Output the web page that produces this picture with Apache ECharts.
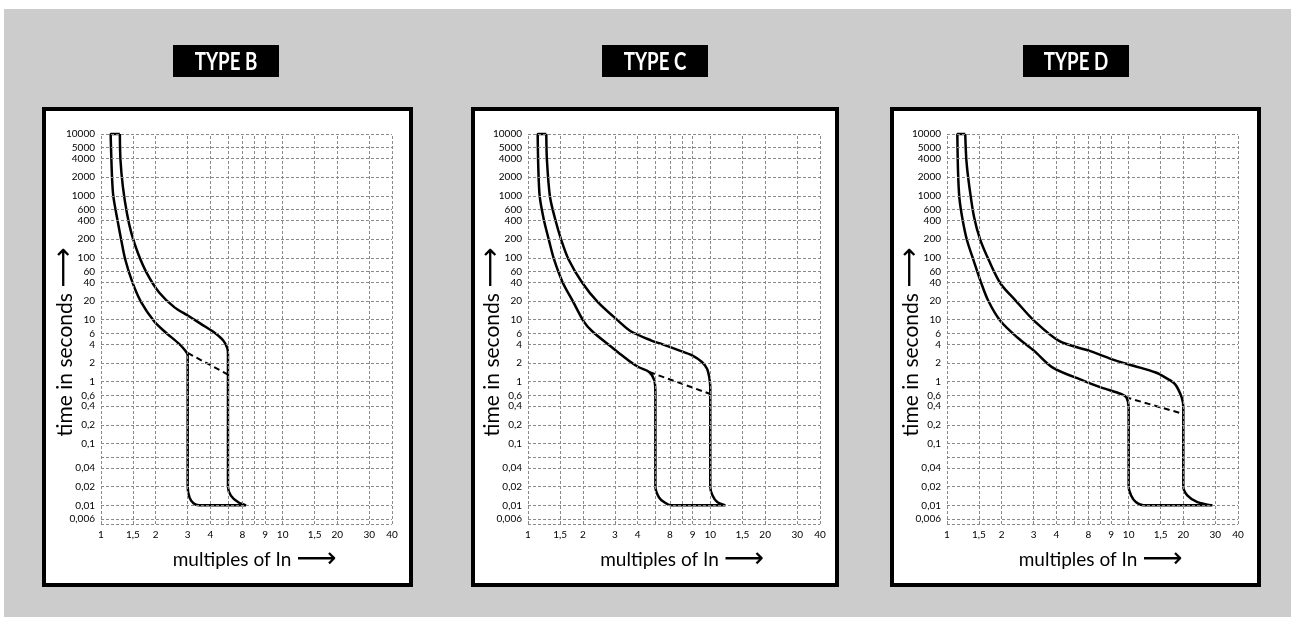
<!DOCTYPE html>
<html>
<head>
<meta charset="utf-8">
<script src="https://cdn.jsdelivr.net/npm/echarts@6/dist/echarts.min.js"></script>
<style>
html,body{margin:0;padding:0;background:#cccccc;}
#chart{width:1291px;height:617px;}
</style>
</head>
<body>
<div id="chart"></div>
<script>
// ---------- tick / grid values ----------
const panelTitles = ['TYPE B', 'TYPE C', 'TYPE D'];
const yAxisName = 'time in seconds';
const xAxisName = 'multiples of In';

const yGridValues = [10000, 6000, 4000, 2000, 1000, 600, 400, 200, 100, 60, 40, 20, 10, 6, 4, 2, 1, 0.6, 0.4, 0.2, 0.1, 0.06, 0.04, 0.02, 0.01, 0.006, 0.005];
const yLabelTexts = ['10000', '5000', '4000', '2000', '1000', '600', '400', '200', '100', '60', '40', '20', '10', '6', '4', '2', '1', '0,6', '0,4', '0,2', '0,1', '', '0,04', '0,02', '0,01', '0,006', ''];

const xGridValues = [1, 1.5, 2, 3, 4, 5, 6, 7, 8, 10, 15, 20, 30, 40];
const xLabelTexts = ['1', '1,5', '2', '3', '4', '', '8', '', '9', '10', '1,5', '20', '30', '40'];

// ---------- TYPE B ----------
const bMinX = [1.13, 1.15, 1.17, 1.23, 1.29, 1.36, 1.49, 1.66, 1.96, 2.23, 2.71, 2.9, 3.0, 3.0, 3.07, 3.23, 3.46];
const bMinT = [10000, 2000, 970, 420, 200, 94, 40, 19.4, 9.4, 6.5, 4.0, 3.2, 2.7, 0.02, 0.0135, 0.0108, 0.01];
const bMaxX = [1.27, 1.28, 1.32, 1.39, 1.47, 1.60, 1.79, 2.09, 2.54, 3.02, 3.58, 4.17, 4.71, 4.95, 5.0, 5.0, 5.19, 5.7, 6.29];
const bMaxT = [10000, 3800, 1400, 520, 250, 117, 56, 27.5, 15.8, 11.6, 8.4, 6.3, 4.6, 3.5, 2.8, 0.02, 0.0144, 0.0112, 0.01];
const bDashX = [3.0, 5.0];
const bDashT = [2.9, 1.3];

// ---------- TYPE C ----------
const cMinX = [1.13, 1.14, 1.16, 1.22, 1.30, 1.39, 1.55, 1.77, 2.02, 2.25, 2.75, 3.2, 3.66, 4.03, 4.62, 4.93, 5.0, 5.0, 5.23, 5.6, 6.12];
const cMinT = [10000, 2600, 970, 420, 197, 94, 40, 19.4, 9.4, 6.5, 4.0, 2.8, 2.07, 1.72, 1.43, 1.05, 0.64, 0.02, 0.0135, 0.0112, 0.01];
const cMaxX = [1.26, 1.27, 1.32, 1.41, 1.52, 1.67, 1.98, 2.41, 3.15, 3.66, 4.75, 5.48, 6.74, 7.95, 9.0, 9.6, 9.87, 10, 10, 10.29, 10.92, 12.1];
const cMaxT = [10000, 3800, 970, 420, 197, 94, 40, 19.4, 9.4, 6.5, 4.6, 4.0, 3.2, 2.65, 2.07, 1.61, 1.18, 0.82, 0.02, 0.0144, 0.0113, 0.01];
const cDashX = [4.62, 10];
const cDashT = [1.43, 0.63];

// ---------- TYPE D ----------
const dMinX = [1.14, 1.15, 1.17, 1.22, 1.29, 1.40, 1.53, 1.69, 1.97, 2.45, 3.03, 3.82, 5.66, 7.09, 9.15, 9.74, 10, 10, 10.32, 10.95, 12.07];
const dMinT = [10000, 2500, 930, 405, 190, 91, 42, 20, 9.5, 5.1, 3.1, 1.68, 1.03, 0.8, 0.625, 0.55, 0.38, 0.02, 0.0144, 0.0113, 0.01];
const dMaxX = [1.26, 1.28, 1.33, 1.41, 1.52, 1.70, 1.97, 2.40, 3.03, 4.16, 6.16, 8.44, 10.73, 14.1, 15.95, 18.0, 19.6, 20, 20, 21.1, 23.9, 28.9];
const dMaxT = [10000, 3600, 1350, 450, 200, 91, 38.5, 20, 9.5, 4.5, 3.1, 2.2, 1.79, 1.4, 1.16, 0.91, 0.55, 0.38, 0.02, 0.0144, 0.0113, 0.01];
const dDashX = [9.6, 20];
const dDashT = [0.56, 0.30];

// ---------- layout ----------
const panels = [
  {minX: bMinX, minT: bMinT, maxX: bMaxX, maxT: bMaxT, dashX: bDashX, dashT: bDashT},
  {minX: cMinX, minT: cMinT, maxX: cMaxX, maxT: cMaxT, dashX: cDashX, dashT: cDashT},
  {minX: dMinX, minT: dMinT, maxX: dMaxX, maxT: dMaxT, dashX: dDashX, dashT: dDashT}
];
const gridLeft = [101, 528, 947];
const gridWidth = [291, 292, 291];
const boxRects = [[44, 109, 367, 476], [473, 109, 364, 476], [892, 109, 367, 476]];
const titleCenters = [226, 655, 1076];

const tickFont = 'Lato, "Noto Sans", sans-serif';
const gridLineStyle = {color: '#8a8a8a', width: 1, type: [3, 2]};
const arrowRich = {arr: {fontSize: 28, fontFamily: '"DejaVu Sans", sans-serif', color: '#000', fontWeight: 'normal'}};

function closedOutline(p) {
  const pts = [[p.maxX[0], p.maxT[0]]];
  for (let k = 0; k < p.minX.length; k++) pts.push([p.minX[k], p.minT[k]]);
  for (let k = p.maxX.length - 1; k >= 0; k--) pts.push([p.maxX[k], p.maxT[k]]);
  return pts;
}

const grids = [], xAxes = [], yAxes = [], series = [];
panels.forEach((p, i) => {
  grids.push({left: gridLeft[i], top: 134, width: gridWidth[i], height: 390});
  xAxes.push({
    type: 'log', gridIndex: i, min: 1, max: 40, logBase: 10,
    axisLine: {show: false}, axisTick: {show: false}, axisLabel: {show: false}, splitLine: {show: false},
    name: xAxisName + ' {arr|\u27F6}', nameLocation: 'middle', nameGap: 22,
    nameTextStyle: {fontSize: 19, color: '#000', fontFamily: tickFont, rich: arrowRich, padding: [0, 0, 0, 16]}
  });
  yAxes.push({
    type: 'log', gridIndex: i, min: 0.005, max: 10000, logBase: 10,
    axisLine: {show: false}, axisTick: {show: false}, axisLabel: {show: false}, splitLine: {show: false},
    name: yAxisName + ' {arr|\u27F6}', nameLocation: 'middle', nameGap: 22, nameRotate: 90,
    nameTextStyle: {fontSize: 21, color: '#000', fontFamily: tickFont, rich: arrowRich, padding: [0, 26, 0, 0]}
  });
  const markData = [];
  yGridValues.forEach((v, k) => {
    markData.push({yAxis: v, label: {show: yLabelTexts[k] !== '', formatter: yLabelTexts[k] || ' ', position: 'start'}});
  });
  xGridValues.forEach((v, k) => {
    markData.push({xAxis: v, label: {show: xLabelTexts[k] !== '', formatter: xLabelTexts[k] || ' ', position: 'start'}});
  });
  series.push({
    type: 'line', xAxisIndex: i, yAxisIndex: i, data: [], z: 1, silent: true,
    markLine: {
      silent: true, symbol: ['none', 'none'], animation: false, precision: 6,
      lineStyle: gridLineStyle,
      label: {color: '#000', fontSize: 10, fontFamily: tickFont, distance: 6},
      emphasis: {disabled: true},
      data: markData
    }
  });
  series.push({
    type: 'line', xAxisIndex: i, yAxisIndex: i, data: closedOutline(p),
    symbol: 'none', smooth: 0.3, clip: false, z: 3, silent: true,
    lineStyle: {color: '#000', width: 2.5}
  });
  series.push({
    type: 'line', xAxisIndex: i, yAxisIndex: i,
    data: p.dashX.map((x, k) => [x, p.dashT[k]]),
    symbol: 'none', clip: false, z: 3, silent: true,
    lineStyle: {color: '#000', width: 2, type: [6, 4]}
  });
});

const graphic = [
  {type: 'rect', z: -2, shape: {x: 0, y: 0, width: 1291, height: 9}, style: {fill: '#ffffff'}},
  {type: 'rect', z: -2, shape: {x: 0, y: 0, width: 4, height: 617}, style: {fill: '#ffffff'}}
];
boxRects.forEach(r => {
  graphic.push({type: 'rect', z: -1, shape: {x: r[0], y: r[1], width: r[2], height: r[3]},
    style: {fill: '#ffffff', stroke: '#000000', lineWidth: 4}});
});
panelTitles.forEach((t, i) => {
  graphic.push({type: 'rect', z: 10, shape: {x: titleCenters[i] - 53, y: 45, width: 106, height: 32}, style: {fill: '#000'}});
  graphic.push({type: 'text', z: 11, x: titleCenters[i], y: 62, scaleX: 0.78,
    style: {text: t, fill: '#fff', fontSize: 24, fontWeight: 'bold',
      fontFamily: 'Lato, "DejaVu Sans", sans-serif',
      align: 'center', verticalAlign: 'middle'}});
});

const chart = echarts.init(document.getElementById('chart'), null, {renderer: 'canvas'});
chart.setOption({
  backgroundColor: '#cccccc',
  animation: false,
  grid: grids, xAxis: xAxes, yAxis: yAxes, series: series, graphic: graphic
});
</script>
</body>
</html>
